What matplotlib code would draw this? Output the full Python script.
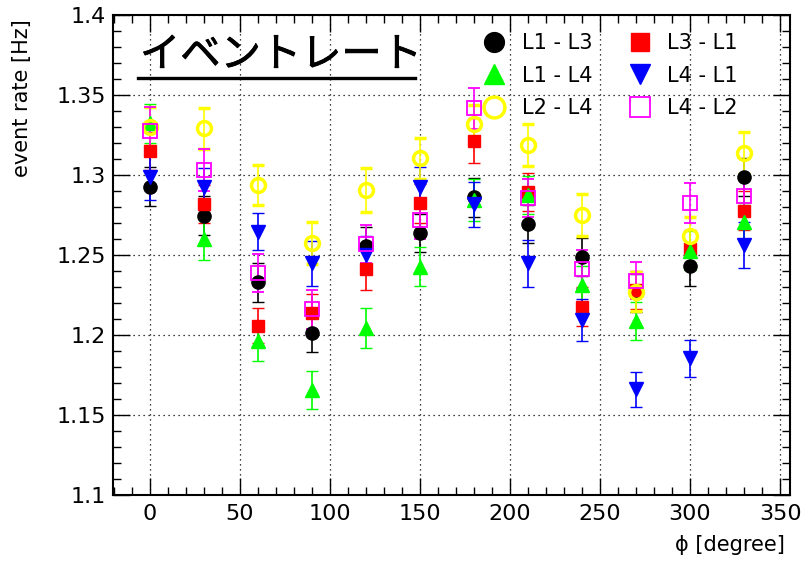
import matplotlib
matplotlib.use("Agg")
import matplotlib.pyplot as plt
import matplotlib.patheffects as pe
from matplotlib.ticker import MultipleLocator
from matplotlib.lines import Line2D

plt.rcParams['font.family'] = ['DejaVu Sans']

phi = [0, 30, 60, 90, 120, 150, 180, 210, 240, 270, 300, 330]

l1_l3 = [1.2924, 1.2743, 1.2326, 1.2011, 1.2555, 1.2633, 1.2857, 1.2689, 1.2486, 1.2261, 1.2428, 1.2986]
l3_l1 = [1.3147, 1.2814, 1.2055, 1.2135, 1.2407, 1.2820, 1.3211, 1.2892, 1.2174, 1.2278, 1.2532, 1.2774]
l1_l4 = [1.3320, 1.2595, 1.1961, 1.1653, 1.2039, 1.2424, 1.2840, 1.2872, 1.2309, 1.2086, 1.2524, 1.2705]
l4_l1 = [1.2982, 1.2920, 1.2643, 1.2445, 1.2497, 1.2924, 1.2814, 1.2445, 1.2091, 1.1657, 1.1851, 1.2559]
l2_l4 = [1.3300, 1.3289, 1.2934, 1.2573, 1.2903, 1.3101, 1.3314, 1.3185, 1.2747, 1.2268, 1.2616, 1.3136]
l4_l2 = [1.3270, 1.3028, 1.2386, 1.2157, 1.2564, 1.2716, 1.3414, 1.2852, 1.2407, 1.2336, 1.2824, 1.2868]

err_l1_l3 = [0.012, 0.012, 0.012, 0.012, 0.012, 0.012, 0.012, 0.012, 0.012, 0.012, 0.0125, 0.012]
err_l3_l1 = [0.012, 0.012, 0.011, 0.012, 0.013, 0.012, 0.014, 0.012, 0.012, 0.012, 0.012, 0.012]
err_l1_l4 = [0.012, 0.013, 0.0125, 0.012, 0.0125, 0.012, 0.013, 0.012, 0.012, 0.012, 0.012, 0.012]
err_l4_l1 = [0.014, 0.012, 0.0115, 0.014, 0.012, 0.012, 0.014, 0.0145, 0.013, 0.011, 0.0117, 0.0145]
err_l2_l4 = [0.012, 0.013, 0.0125, 0.013, 0.0135, 0.013, 0.012, 0.013, 0.013, 0.012, 0.012, 0.013]
err_l4_l2 = [0.015, 0.013, 0.012, 0.012, 0.012, 0.012, 0.013, 0.012, 0.012, 0.0115, 0.0125, 0.012]

labels = ['L1 - L3', 'L3 - L1', 'L1 - L4', 'L4 - L1', 'L2 - L4', 'L4 - L2']

fig = plt.figure(figsize=(8.02, 5.66), dpi=100)
ax = fig.add_axes([0.1409, 0.1263, 0.8441, 0.848])

series = [
    (l1_l3, err_l1_l3, 'black', 'o', 9.5, True, 1.0),
    (l3_l1, err_l3_l1, '#ff0000', 's', 9, True, 1.0),
    (l1_l4, err_l1_l4, '#00ff00', '^', 10, True, 1.0),
    (l4_l1, err_l4_l1, '#0000ff', 'v', 10, True, 1.0),
    (l2_l4, err_l2_l4, '#ffff00', 'o', 10, False, 2.5),
    (l4_l2, err_l4_l2, '#ff00ff', 's', 10, False, 1.3),
]

handles = []
for (vals, errs, col, mk, ms, filled, mew), lab in zip(series, labels):
    ax.errorbar(phi, vals, yerr=errs, fmt=mk, color=col, ecolor=col,
                markersize=ms, markerfacecolor=col if filled else 'none',
                markeredgecolor=col, markeredgewidth=mew,
                elinewidth=1.2, capsize=4, capthick=1.2)
    handles.append(Line2D([], [], linestyle='none', marker=mk, color=col,
                          markersize=ms * 1.5,
                          markerfacecolor=col if filled else 'none',
                          markeredgecolor=col, markeredgewidth=mew))

ax.set_xlim(-20.5, 355.5)
ax.set_ylim(1.1, 1.4)
ax.xaxis.set_major_locator(MultipleLocator(50))
ax.xaxis.set_minor_locator(MultipleLocator(10))
ax.yaxis.set_major_locator(MultipleLocator(0.05))
ax.yaxis.set_minor_locator(MultipleLocator(0.01))
ax.set_yticks([1.1, 1.15, 1.2, 1.25, 1.3, 1.35, 1.4])
ax.set_yticklabels(['1.1', '1.15', '1.2', '1.25', '1.3', '1.35', '1.4'])
ax.tick_params(which='both', direction='in', top=True, right=True, labelsize=16)
ax.tick_params(which='major', length=12, width=1)
ax.tick_params(which='minor', length=6, width=1)
ax.tick_params(axis='y', pad=5)
ax.tick_params(axis='x', pad=7)
ax.grid(True, which='major', color='black', linestyle=(0, (1, 3)), linewidth=0.9)
for s in ax.spines.values():
    s.set_linewidth(1.5)

ax.set_ylabel('event rate [Hz]', fontsize=15, loc='top')
ax.yaxis.set_label_coords(-0.12, 0.99)
ax.set_xlabel('ϕ [degree]', fontsize=15, loc='right')
ax.xaxis.set_label_coords(0.992, -0.085)

order = [0, 2, 4, 1, 3, 5]
leg = fig.legend([handles[i] for i in order], [labels[i] for i in order],
                 ncol=2, loc='upper left', bbox_to_anchor=(484 / 802, 1 - 33 / 566),
                 frameon=False, fontsize=15, handlelength=1.0, handletextpad=0.8,
                 columnspacing=1.8, labelspacing=0.6, borderpad=0, borderaxespad=0)

title = fig.text(140 / 802, 1 - 55 / 566, 'イベントレート', fontsize=29, va='center', ha='left',
                 family=['Noto Sans CJK JP', 'DejaVu Sans'])
title.set_path_effects([pe.withStroke(linewidth=0.6, foreground='black')])
fig.add_artist(Line2D([138 / 802, 415 / 802], [1 - 78 / 566, 1 - 78 / 566],
                      color='black', linewidth=2.4, transform=fig.transFigure))

fig.savefig('out.png', dpi=100)
